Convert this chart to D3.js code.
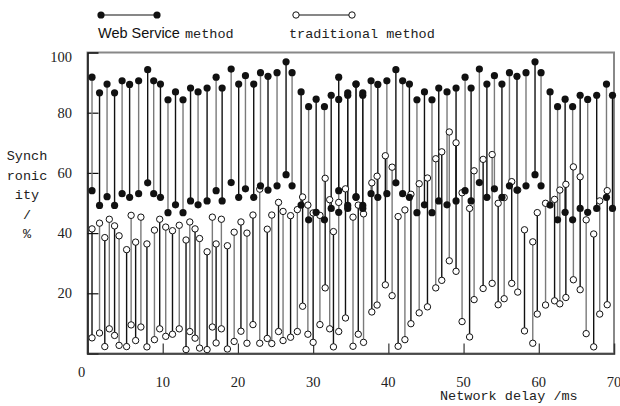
<!DOCTYPE html>
<meta charset="utf-8">
<script src="https://d3js.org/d3.v7.min.js"></script>
<style>
  body { margin: 0; background: #fff; }
  .mono { font-family: "Liberation Mono", monospace; font-size: 13.5px; fill: #222; }
  .num { font-family: "Liberation Serif", serif; font-size: 14.5px; fill: #222; }
</style>
<div id="chart"></div>
<script>

// Web Service method: x position, upper and lower value of each stem
var webX = [0.6, 1.6, 2.6, 3.6, 4.6, 5.6, 6.8, 8.0, 8.8, 9.7, 10.7, 11.7, 12.7, 13.7, 14.7, 15.9, 17.1, 17.9,
  19.1, 20.1, 21.0, 22.1, 23.0, 24.0, 25.2, 26.4, 27.2, 28.4, 29.4, 30.4, 31.5, 32.4, 33.4, 33.4, 34.6, 34.6,
  35.7, 35.7, 36.6, 36.6, 37.7, 38.6, 39.8, 41.0, 41.9, 42.8, 43.8, 44.8, 45.8, 46.7, 47.8, 49.0, 50.2, 51.0,
  52.1, 53.1, 54.1, 55.1, 56.1, 57.1, 58.3, 59.5, 60.3, 61.5, 62.5, 63.5, 64.5, 65.5, 66.5, 67.7, 69.0, 69.8];
var webHigh = [91.8, 86.6, 89.5, 86.6, 90.6, 89.4, 90.6, 94.3, 90.6, 89.5, 84.3, 86.9, 84.3, 88.2, 86.9, 88.2, 91.8, 88.2,
  94.5, 89.5, 92.3, 89.5, 93.3, 92.1, 93.3, 96.9, 93.3, 86.9, 82.0, 84.5, 82.0, 85.8, 84.4, 91.8, 85.8, 86.6,
  89.5, 89.5, 85.8, 86.6, 90.6, 89.4, 90.6, 94.3, 90.6, 89.5, 84.3, 86.9, 84.3, 88.2, 86.9, 88.2, 91.8, 88.2,
  94.5, 89.5, 92.3, 89.5, 93.3, 92.1, 93.3, 96.9, 93.3, 86.9, 82.0, 84.5, 82.0, 85.8, 84.4, 85.8, 89.5, 85.8];
var webLow = [54.1, 49.2, 52.1, 49.2, 53.1, 51.9, 53.1, 56.7, 53.1, 51.9, 46.8, 49.4, 46.8, 50.7, 49.4, 50.7, 54.1, 50.7,
  56.8, 51.9, 54.7, 51.9, 55.7, 54.3, 55.7, 59.4, 55.7, 49.3, 44.4, 46.9, 44.4, 48.2, 46.9, 54.1, 48.2, 49.2,
  51.9, 52.1, 48.2, 49.2, 53.1, 51.9, 53.1, 56.7, 53.1, 51.9, 46.8, 49.4, 46.8, 50.7, 49.4, 50.7, 54.1, 50.7,
  56.8, 51.9, 54.7, 51.9, 55.7, 54.3, 55.7, 59.4, 55.7, 49.3, 44.4, 46.9, 44.4, 48.2, 46.9, 48.2, 51.9, 48.2];

// traditional method
var tradX = [0.6, 1.6, 2.3, 2.9, 3.6, 4.2, 5.2, 5.8, 6.4, 7.1, 7.9, 8.9, 9.6, 10.4, 11.3, 12.2, 13.1, 13.6,
  14.3, 14.9, 15.9, 16.6, 17.1, 17.8, 18.6, 19.5, 20.4, 21.2, 22.0, 22.9, 23.9, 24.5, 25.4, 26.0, 27.0, 27.9,
  28.6, 29.3, 30.0, 30.9, 31.6, 32.2, 32.7, 33.4, 34.3, 35.3, 36.0, 36.7, 37.8, 38.5, 39.6, 40.5, 41.3, 42.2,
  43.0, 44.1, 45.2, 46.3, 47.1, 48.1, 49.0, 49.8, 50.8, 51.4, 52.6, 53.8, 54.6, 55.4, 56.4, 57.2, 58.1, 59.2,
  59.8, 60.9, 62.1, 62.8, 63.6, 64.6, 65.5, 66.3, 67.3, 68.1, 69.1];
var tradTop = [41.4, 43.3, 38.5, 44.6, 42.4, 39.1, 34.5, 45.9, 37.0, 45.3, 36.4, 41.0, 44.6, 42.0, 40.8, 42.6, 37.7, 43.7,
  41.4, 38.2, 33.8, 45.3, 36.4, 44.6, 35.8, 40.3, 43.7, 40.0, 46.0, 54.6, 41.3, 46.0, 50.2, 47.2, 45.8, 47.8,
  52.0, 49.3, 46.7, 45.9, 58.2, 51.1, 40.5, 50.2, 54.7, 45.3, 49.3, 46.4, 56.7, 58.9, 65.7, 61.9, 45.5, 47.7,
  52.9, 56.4, 58.3, 64.7, 67.0, 73.6, 70.0, 53.4, 48.2, 60.7, 64.5, 66.1, 49.9, 51.8, 57.1, 54.3, 41.1, 37.1,
  46.8, 49.9, 51.2, 54.3, 56.2, 62.0, 58.7, 44.4, 39.7, 50.7, 54.1];
var tradBottom = [5.2, 6.8, 2.3, 8.2, 6.0, 2.7, 2.3, 9.5, 4.3, 8.8, 2.2, 4.6, 8.2, 5.7, 6.4, 8.2, 1.3, 7.3,
  5.1, 1.8, 1.3, 8.8, 3.5, 8.2, 1.5, 4.0, 7.4, 3.4, 9.6, 3.4, 5.0, 3.3, 7.3, 4.3, 5.4, 7.3,
  15.7, 6.4, 3.7, 9.6, 21.8, 8.2, 2.2, 7.3, 11.8, 2.4, 6.4, 3.7, 13.8, 16.1, 22.8, 19.2, 2.4, 4.6,
  9.9, 13.5, 15.5, 21.8, 24.3, 30.8, 27.3, 10.6, 5.5, 17.9, 21.6, 23.3, 16.2, 18.2, 23.3, 20.4, 7.5, 3.4,
  13.1, 16.1, 17.5, 16.5, 18.6, 24.5, 21.2, 6.6, 2.2, 13.1, 16.2];

var yTicks = [20, 40, 60, 80, 100];
var xTicks = [10, 20, 30, 40, 50, 60, 70];

var width = 620, height = 406;
var margin = {top: 52.5, right: 6, bottom: 52.5, left: 87.5};

var svg = d3.select("#chart").append("svg")
  .attr("width", width)
  .attr("height", height);

var x = d3.scaleLinear().domain([0, 70]).range([margin.left, width - margin.right]);
var y = d3.scaleLinear().domain([0, 100]).range([height - margin.bottom, margin.top]);

// frame
svg.append("rect")
  .attr("x", x(0)).attr("y", y(100))
  .attr("width", x(70) - x(0)).attr("height", y(0) - y(100))
  .attr("fill", "none").attr("stroke", "#888").attr("stroke-width", 2);

// left axis, ticks pointing inside
var yAxis = svg.append("g")
  .attr("transform", "translate(" + x(0) + ",0)")
  .call(d3.axisRight(y).tickValues(yTicks.slice(0, 4)).tickSize(11).tickFormat(""));
yAxis.select(".domain").attr("stroke", "#111").attr("stroke-width", 1.5);
yAxis.selectAll(".tick line").attr("stroke", "#111").attr("stroke-width", 1.2);

svg.selectAll(".ylab")
  .data(yTicks)
  .enter().append("text")
  .attr("class", "num")
  .attr("x", 72)
  .attr("y", function(d) { return y(d) + (d == 100 ? 9 : 5); })
  .attr("text-anchor", "end")
  .text(function(d) { return d; });

// bottom axis, ticks pointing inside
var xAxis = svg.append("g")
  .attr("transform", "translate(0," + y(0) + ")")
  .call(d3.axisTop(x).tickValues(xTicks.slice(0, 6)).tickSize(10).tickFormat(""));
xAxis.select(".domain").attr("stroke", "#333").attr("stroke-width", 1.5);
xAxis.selectAll(".tick line").attr("stroke", "#333").attr("stroke-width", 1.2);

svg.selectAll(".xlab")
  .data(xTicks)
  .enter().append("text")
  .attr("class", "num")
  .attr("x", function(d) { return x(d); })
  .attr("y", 387)
  .attr("text-anchor", "middle")
  .text(function(d) { return d; });

svg.append("text").attr("class", "num")
  .attr("x", 81.5).attr("y", 377).attr("text-anchor", "middle").text("0");

// axis titles
svg.append("text").attr("class", "mono")
  .attr("x", 440).attr("y", 400).text("Network delay /ms");

svg.append("text").attr("class", "mono")
  .attr("text-anchor", "middle")
  .selectAll("tspan")
  .data(["Synch", "ronic", "ity", "/", "%"])
  .enter().append("tspan")
  .attr("x", 27)
  .attr("y", function(d, i) { return 160 + i * 19.5; })
  .text(function(d) { return d; });

// stems
function stemColor(i) { return i % 2 ? "#7a7a7a" : "#111"; }

svg.selectAll(".tstem")
  .data(tradX)
  .enter().append("line")
  .attr("x1", function(d) { return x(d); })
  .attr("x2", function(d) { return x(d); })
  .attr("y1", function(d, i) { return y(tradTop[i]); })
  .attr("y2", function(d, i) { return y(tradBottom[i]); })
  .attr("stroke", function(d, i) { return stemColor(i); })
  .attr("stroke-width", 1.4);

svg.selectAll(".wstem")
  .data(webX)
  .enter().append("line")
  .attr("x1", function(d) { return x(d); })
  .attr("x2", function(d) { return x(d); })
  .attr("y1", function(d, i) { return y(webHigh[i]); })
  .attr("y2", function(d, i) { return y(webLow[i]); })
  .attr("stroke", function(d, i) { return stemColor(i + 1); })
  .attr("stroke-width", 1.4);

// markers
var tradPts = [], webPts = [];
tradX.forEach(function(d, i) { tradPts.push([d, tradTop[i]], [d, tradBottom[i]]); });
webX.forEach(function(d, i) { webPts.push([d, webHigh[i]], [d, webLow[i]]); });

svg.selectAll(".tdot")
  .data(tradPts)
  .enter().append("circle")
  .attr("cx", function(d) { return x(d[0]); })
  .attr("cy", function(d) { return y(d[1]); })
  .attr("r", 3.2)
  .attr("fill", "#fff").attr("stroke", "#111").attr("stroke-width", 1);

svg.selectAll(".wdot")
  .data(webPts)
  .enter().append("circle")
  .attr("cx", function(d) { return x(d[0]); })
  .attr("cy", function(d) { return y(d[1]); })
  .attr("r", 3.6)
  .attr("fill", "#111");

// legend
var leg = svg.append("g");
leg.append("line").attr("x1", 101).attr("x2", 157).attr("y1", 15).attr("y2", 15)
  .attr("stroke", "#111").attr("stroke-width", 1.2);
leg.selectAll(".lw").data([101, 157]).enter().append("circle")
  .attr("cx", function(d) { return d; }).attr("cy", 15).attr("r", 3.6).attr("fill", "#111");
leg.append("text").attr("x", 98).attr("y", 38)
  .style("font-family", "'Liberation Sans', Arial, sans-serif").style("font-size", "14.5px").attr("fill", "#111")
  .text("Web Service");
leg.append("text").attr("class", "mono").attr("x", 185).attr("y", 38).text("method");

leg.append("line").attr("x1", 296).attr("x2", 352).attr("y1", 15).attr("y2", 15)
  .attr("stroke", "#111").attr("stroke-width", 1.2);
leg.selectAll(".lt").data([296, 352]).enter().append("circle")
  .attr("cx", function(d) { return d; }).attr("cy", 15).attr("r", 3.2)
  .attr("fill", "#fff").attr("stroke", "#111");
leg.append("text").attr("class", "mono").attr("x", 289).attr("y", 38).text("traditional method");

</script>
